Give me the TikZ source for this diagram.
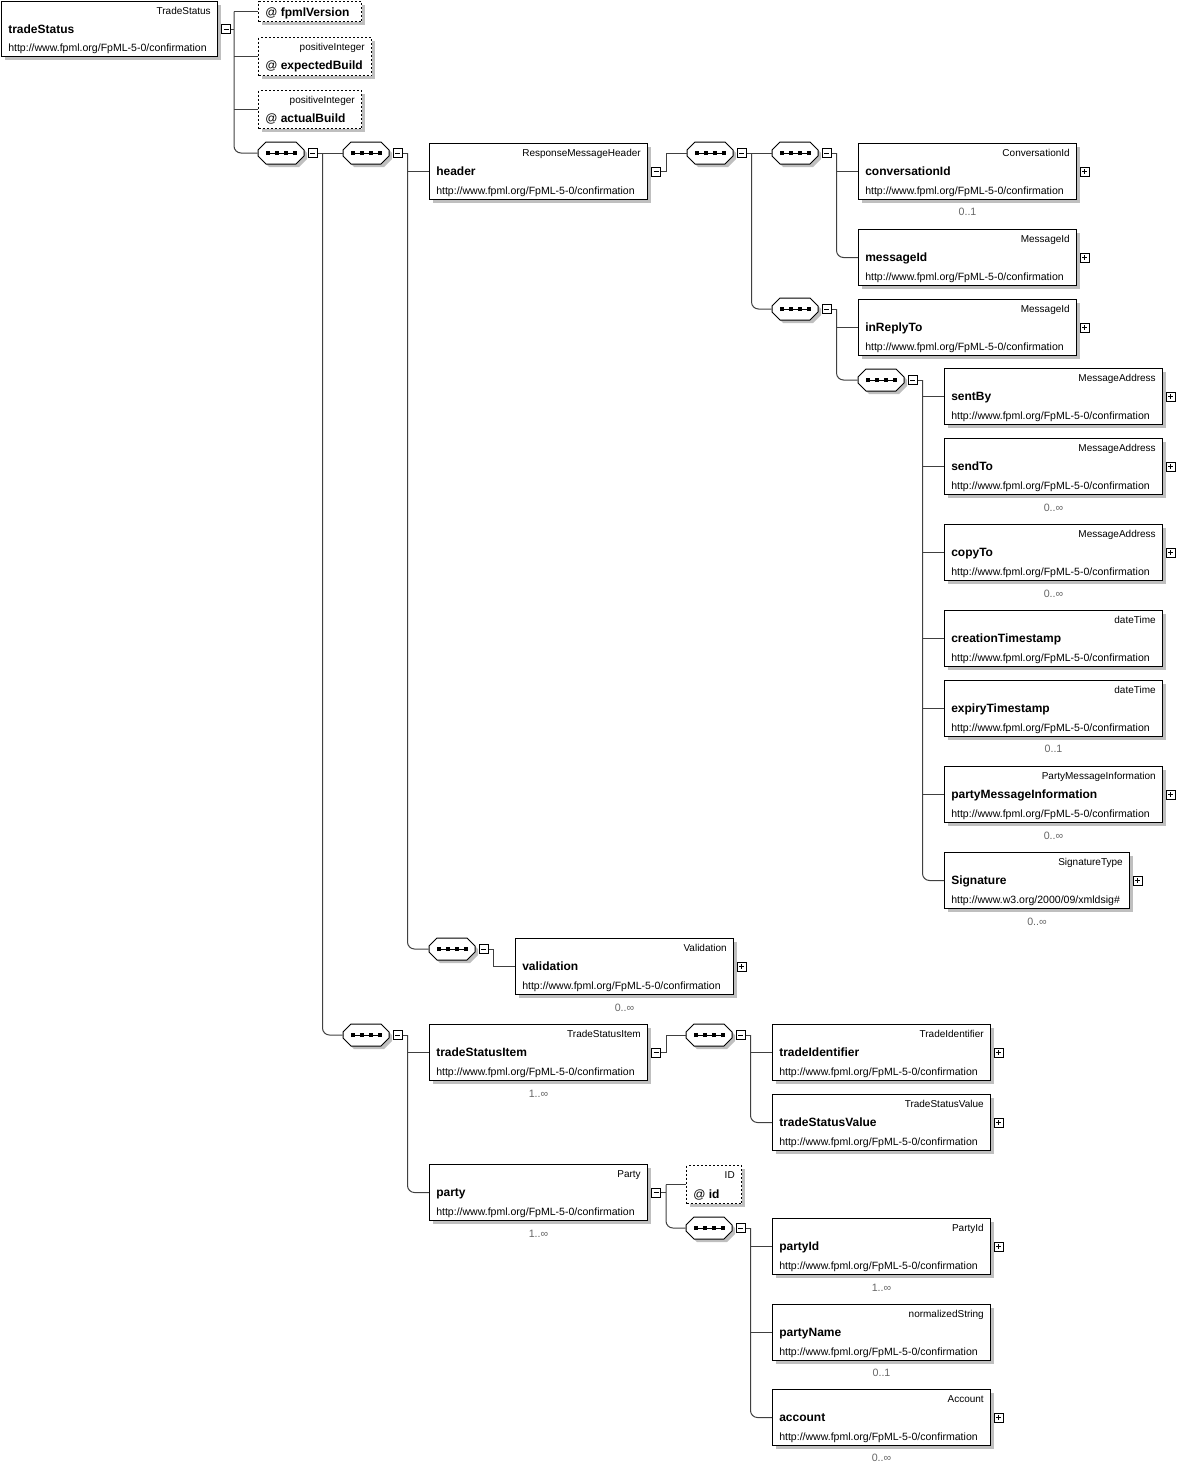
\documentclass[tikz,border=0pt]{standalone}
\usepackage{fontspec}
\setmainfont{Liberation Sans}
\usetikzlibrary{shapes.misc,shadows}
\newlength{\du}
\setlength{\du}{0.75pt}
\definecolor{shadowgray}{rgb}{0.750000, 0.750000, 0.750000}
\definecolor{linegray}{rgb}{0.250000, 0.250000, 0.250000}
\definecolor{multgray}{rgb}{0.400000, 0.400000, 0.400000}
\newcommand{\fpmlns}{http://www.fpml.org/FpML-5-0/confirmation}
\newcommand{\seqdots}{\rule{4\du}{4\du}\rule[1.5\du]{5\du}{1\du}\rule{4\du}{4\du}\rule[1.5\du]{5\du}{1\du}\rule{4\du}{4\du}\rule[1.5\du]{5\du}{1\du}\rule{4\du}{4\du}}
\tikzset{
  boxshadow/.style={drop shadow={shadow xshift=3\du, shadow yshift=-3\du, fill=shadowgray, opacity=1}},
  elembox/.style={draw, line width=1\du, fill=white, anchor=north west, inner sep=0pt,
    minimum width=218\du, minimum height=56\du, boxshadow},
  attrbox/.style={draw, line width=1\du, dash pattern=on 2\du off 2\du, fill=white,
    anchor=north west, inner sep=0pt, minimum height=38\du, boxshadow},
  seqbox/.style={chamfered rectangle, chamfered rectangle sep=6\du, draw, line width=1\du,
    fill=white, anchor=center, inner sep=0pt, minimum width=46\du, minimum height=22\du, boxshadow},
  collapse/.style={draw, line width=1\du, fill=white, minimum size=9\du, inner sep=0pt,
    path picture={\draw[line width=1\du] ([xshift=2\du]path picture bounding box.west) -- ([xshift=-2\du]path picture bounding box.east);}},
  expand/.style={draw, line width=1\du, fill=white, minimum size=9\du, inner sep=0pt,
    path picture={\draw[line width=1\du] ([xshift=2\du]path picture bounding box.west) -- ([xshift=-2\du]path picture bounding box.east)
      ([yshift=-2\du]path picture bounding box.north) -- ([yshift=2\du]path picture bounding box.south);}},
  typelbl/.style={anchor=east, inner sep=0pt, text height=5.4pt, text depth=0pt, font=\fontsize{7.5}{9}\selectfont},
  namelbl/.style={anchor=west, inner sep=0pt, text height=6.4pt, text depth=0pt, font=\fontsize{9}{11}\selectfont\bfseries},
  urllbl/.style={anchor=west, inner sep=0pt, text height=5.7pt, text depth=0pt, font=\fontsize{7.9}{9}\selectfont},
  attrlbl/.style={anchor=west, inner sep=0pt, text height=6.4pt, text depth=0pt, font=\fontsize{9}{11}\selectfont},
  multlbl/.style={inner sep=0pt, text=multgray, font=\fontsize{8}{9}\selectfont},
  conn/.style={draw=linegray, line width=1\du},
}
\begin{document}
\begin{tikzpicture}[x=\du,y=-\du]
\useasboundingbox (0,0) rectangle (1203,1467);
% root element
\node[elembox, minimum width=216\du, minimum height=55\du] (ts) at (1,1) {};
\node[typelbl] (ts-t) at ([shift={(-7,10)}]ts.north east) {TradeStatus};
\node[namelbl] (ts-n) at ([shift={(7,0)}]ts.west) {tradeStatus};
\node[urllbl] (ts-u) at ([shift={(7,-9)}]ts.south west) {\fpmlns};
\node[collapse] (ts-m) at ([xshift=8\du]ts.east) {};
% attributes
\node[attrbox, minimum width=103\du, minimum height=20\du] (fpv) at (258,1) {};
\node[attrlbl] (fpv-n) at ([shift={(7,-10)}]fpv.south west) {@ \textbf{fpmlVersion}};
\node[attrbox, minimum width=113\du] (exb) at (258,37) {};
\node[typelbl] (exb-t) at ([shift={(-7,10)}]exb.north east) {positiveInteger};
\node[attrlbl] (exb-n) at ([shift={(7,-11)}]exb.south west) {@ \textbf{expectedBuild}};
\node[attrbox, minimum width=103\du] (acb) at (258,90) {};
\node[typelbl] (acb-t) at ([shift={(-7,10)}]acb.north east) {positiveInteger};
\node[attrlbl] (acb-n) at ([shift={(7,-11)}]acb.south west) {@ \textbf{actualBuild}};
% sequences
\node[seqbox] (s1) at (281,153) {\seqdots};
\node[collapse] (s1-m) at ([xshift=8\du]s1.east) {};
\node[seqbox] (s2) at (366,153) {\seqdots};
\node[collapse] (s2-m) at ([xshift=8\du]s2.east) {};
% header
\node[elembox] (hdr) at (429,143) {};
\node[typelbl] (hdr-t) at ([shift={(-7,10)}]hdr.north east) {ResponseMessageHeader};
\node[namelbl] (hdr-n) at ([shift={(7,0)}]hdr.west) {header};
\node[urllbl] (hdr-u) at ([shift={(7,-9)}]hdr.south west) {\fpmlns};
\node[collapse] (hdr-m) at ([xshift=8\du]hdr.east) {};
\node[seqbox] (s3) at (710,153) {\seqdots};
\node[collapse] (s3-m) at ([xshift=8\du]s3.east) {};
\node[seqbox] (s4) at (795,153) {\seqdots};
\node[collapse] (s4-m) at ([xshift=8\du]s4.east) {};
\node[seqbox] (s5) at (795,309) {\seqdots};
\node[collapse] (s5-m) at ([xshift=8\du]s5.east) {};
\node[elembox] (cid) at (858,143) {};
\node[typelbl] (cid-t) at ([shift={(-7,10)}]cid.north east) {ConversationId};
\node[namelbl] (cid-n) at ([shift={(7,0)}]cid.west) {conversationId};
\node[urllbl] (cid-u) at ([shift={(7,-9)}]cid.south west) {\fpmlns};
\node[expand] (cid-p) at ([xshift=7.5\du]cid.east) {};
\node[multlbl] (cid-x) at ([yshift=-12\du]cid.south) {0..1};
\node[elembox] (mid) at (858,229) {};
\node[typelbl] (mid-t) at ([shift={(-7,10)}]mid.north east) {MessageId};
\node[namelbl] (mid-n) at ([shift={(7,0)}]mid.west) {messageId};
\node[urllbl] (mid-u) at ([shift={(7,-9)}]mid.south west) {\fpmlns};
\node[expand] (mid-p) at ([xshift=7.5\du]mid.east) {};
\node[elembox] (irt) at (858,299) {};
\node[typelbl] (irt-t) at ([shift={(-7,10)}]irt.north east) {MessageId};
\node[namelbl] (irt-n) at ([shift={(7,0)}]irt.west) {inReplyTo};
\node[urllbl] (irt-u) at ([shift={(7,-9)}]irt.south west) {\fpmlns};
\node[expand] (irt-p) at ([xshift=7.5\du]irt.east) {};
\node[seqbox] (s6) at (881,380) {\seqdots};
\node[collapse] (s6-m) at ([xshift=8\du]s6.east) {};
% message addresses and the rest
\node[elembox] (sby) at (944,368) {};
\node[typelbl] (sby-t) at ([shift={(-7,10)}]sby.north east) {MessageAddress};
\node[namelbl] (sby-n) at ([shift={(7,0)}]sby.west) {sentBy};
\node[urllbl] (sby-u) at ([shift={(7,-9)}]sby.south west) {\fpmlns};
\node[expand] (sby-p) at ([xshift=7.5\du]sby.east) {};
\node[elembox] (sto) at (944,438) {};
\node[typelbl] (sto-t) at ([shift={(-7,10)}]sto.north east) {MessageAddress};
\node[namelbl] (sto-n) at ([shift={(7,0)}]sto.west) {sendTo};
\node[urllbl] (sto-u) at ([shift={(7,-9)}]sto.south west) {\fpmlns};
\node[expand] (sto-p) at ([xshift=7.5\du]sto.east) {};
\node[multlbl] (sto-x) at ([yshift=-13\du]sto.south) {0..∞};
\node[elembox] (cto) at (944,524) {};
\node[typelbl] (cto-t) at ([shift={(-7,10)}]cto.north east) {MessageAddress};
\node[namelbl] (cto-n) at ([shift={(7,0)}]cto.west) {copyTo};
\node[urllbl] (cto-u) at ([shift={(7,-9)}]cto.south west) {\fpmlns};
\node[expand] (cto-p) at ([xshift=7.5\du]cto.east) {};
\node[multlbl] (cto-x) at ([yshift=-13\du]cto.south) {0..∞};
\node[elembox] (cts) at (944,610) {};
\node[typelbl] (cts-t) at ([shift={(-7,10)}]cts.north east) {dateTime};
\node[namelbl] (cts-n) at ([shift={(7,0)}]cts.west) {creationTimestamp};
\node[urllbl] (cts-u) at ([shift={(7,-9)}]cts.south west) {\fpmlns};
\node[elembox] (ets) at (944,680) {};
\node[typelbl] (ets-t) at ([shift={(-7,10)}]ets.north east) {dateTime};
\node[namelbl] (ets-n) at ([shift={(7,0)}]ets.west) {expiryTimestamp};
\node[urllbl] (ets-u) at ([shift={(7,-9)}]ets.south west) {\fpmlns};
\node[multlbl] (ets-x) at ([yshift=-12\du]ets.south) {0..1};
\node[elembox] (pmi) at (944,766) {};
\node[typelbl] (pmi-t) at ([shift={(-7,10)}]pmi.north east) {PartyMessageInformation};
\node[namelbl] (pmi-n) at ([shift={(7,0)}]pmi.west) {partyMessageInformation};
\node[urllbl] (pmi-u) at ([shift={(7,-9)}]pmi.south west) {\fpmlns};
\node[expand] (pmi-p) at ([xshift=7.5\du]pmi.east) {};
\node[multlbl] (pmi-x) at ([yshift=-13\du]pmi.south) {0..∞};
\node[elembox, minimum width=185\du] (sig) at (944,852) {};
\node[typelbl] (sig-t) at ([shift={(-7,10)}]sig.north east) {SignatureType};
\node[namelbl] (sig-n) at ([shift={(7,0)}]sig.west) {Signature};
\node[urllbl] (sig-u) at ([shift={(7,-9)}]sig.south west) {http://www.w3.org/2000/09/xmldsig\#};
\node[expand] (sig-p) at ([xshift=7.5\du]sig.east) {};
\node[multlbl] (sig-x) at ([yshift=-13\du]sig.south) {0..∞};
% validation
\node[seqbox] (s7) at (452,949) {\seqdots};
\node[collapse] (s7-m) at ([xshift=8\du]s7.east) {};
\node[elembox] (val) at (515,938) {};
\node[typelbl] (val-t) at ([shift={(-7,10)}]val.north east) {Validation};
\node[namelbl] (val-n) at ([shift={(7,0)}]val.west) {validation};
\node[urllbl] (val-u) at ([shift={(7,-9)}]val.south west) {\fpmlns};
\node[expand] (val-p) at ([xshift=7.5\du]val.east) {};
\node[multlbl] (val-x) at ([yshift=-13\du]val.south) {0..∞};
% trade status items
\node[seqbox] (s8) at (366,1035) {\seqdots};
\node[collapse] (s8-m) at ([xshift=8\du]s8.east) {};
\node[elembox] (tsi) at (429,1024) {};
\node[typelbl] (tsi-t) at ([shift={(-7,10)}]tsi.north east) {TradeStatusItem};
\node[namelbl] (tsi-n) at ([shift={(7,0)}]tsi.west) {tradeStatusItem};
\node[urllbl] (tsi-u) at ([shift={(7,-9)}]tsi.south west) {\fpmlns};
\node[collapse] (tsi-m) at ([xshift=8\du]tsi.east) {};
\node[multlbl] (tsi-x) at ([yshift=-13\du]tsi.south) {1..∞};
\node[seqbox] (s9) at (709,1035) {\seqdots};
\node[collapse] (s9-m) at ([xshift=8\du]s9.east) {};
\node[elembox] (tid) at (772,1024) {};
\node[typelbl] (tid-t) at ([shift={(-7,10)}]tid.north east) {TradeIdentifier};
\node[namelbl] (tid-n) at ([shift={(7,0)}]tid.west) {tradeIdentifier};
\node[urllbl] (tid-u) at ([shift={(7,-9)}]tid.south west) {\fpmlns};
\node[expand] (tid-p) at ([xshift=7.5\du]tid.east) {};
\node[elembox] (tsv) at (772,1094) {};
\node[typelbl] (tsv-t) at ([shift={(-7,10)}]tsv.north east) {TradeStatusValue};
\node[namelbl] (tsv-n) at ([shift={(7,0)}]tsv.west) {tradeStatusValue};
\node[urllbl] (tsv-u) at ([shift={(7,-9)}]tsv.south west) {\fpmlns};
\node[expand] (tsv-p) at ([xshift=7.5\du]tsv.east) {};
% party
\node[elembox] (pty) at (429,1164) {};
\node[typelbl] (pty-t) at ([shift={(-7,10)}]pty.north east) {Party};
\node[namelbl] (pty-n) at ([shift={(7,0)}]pty.west) {party};
\node[urllbl] (pty-u) at ([shift={(7,-9)}]pty.south west) {\fpmlns};
\node[collapse] (pty-m) at ([xshift=8\du]pty.east) {};
\node[multlbl] (pty-x) at ([yshift=-13\du]pty.south) {1..∞};
\node[attrbox, minimum width=55\du] (aid) at (686,1165) {};
\node[typelbl] (aid-t) at ([shift={(-7,10)}]aid.north east) {ID};
\node[attrlbl] (aid-n) at ([shift={(7,-10)}]aid.south west) {@ \textbf{id}};
\node[seqbox] (s10) at (709,1228) {\seqdots};
\node[collapse] (s10-m) at ([xshift=8\du]s10.east) {};
\node[elembox] (pid) at (772,1218) {};
\node[typelbl] (pid-t) at ([shift={(-7,10)}]pid.north east) {PartyId};
\node[namelbl] (pid-n) at ([shift={(7,0)}]pid.west) {partyId};
\node[urllbl] (pid-u) at ([shift={(7,-9)}]pid.south west) {\fpmlns};
\node[expand] (pid-p) at ([xshift=7.5\du]pid.east) {};
\node[multlbl] (pid-x) at ([yshift=-13\du]pid.south) {1..∞};
\node[elembox] (pnm) at (772,1304) {};
\node[typelbl] (pnm-t) at ([shift={(-7,10)}]pnm.north east) {normalizedString};
\node[namelbl] (pnm-n) at ([shift={(7,0)}]pnm.west) {partyName};
\node[urllbl] (pnm-u) at ([shift={(7,-9)}]pnm.south west) {\fpmlns};
\node[multlbl] (pnm-x) at ([yshift=-12\du]pnm.south) {0..1};
\node[elembox] (acc) at (772,1389) {};
\node[typelbl] (acc-t) at ([shift={(-7,10)}]acc.north east) {Account};
\node[namelbl] (acc-n) at ([shift={(7,0)}]acc.west) {account};
\node[urllbl] (acc-u) at ([shift={(7,-9)}]acc.south west) {\fpmlns};
\node[expand] (acc-p) at ([xshift=7.5\du]acc.east) {};
\node[multlbl] (acc-x) at ([yshift=-12\du]acc.south) {0..∞};
% connectors
\coordinate (ts-b) at ([xshift=3\du]ts-m.east);
\draw[conn] (ts-m.east) -- (ts-b);
\draw[conn] (ts-b |- fpv.west) -- (fpv.west);
\draw[conn] (ts-b |- exb.west) -- (exb.west);
\draw[conn] (ts-b |- acb.west) -- (acb.west);
\draw[conn, rounded corners=7\du] (ts-b |- fpv.west) -- (ts-b |- s1.west) -- (s1.west);
\coordinate (s1-b) at ([xshift=5\du]s1-m.east);
\draw[conn] (s1-m.east) -- (s2.west);
\draw[conn, rounded corners=7\du] (s1-b) -- (s1-b |- s8.west) -- (s8.west);
\coordinate (s2-b) at ([xshift=5\du]s2-m.east);
\draw[conn] (s2-m.east) -- (s2-b);
\draw[conn] (s2-b |- hdr.west) -- (hdr.west);
\draw[conn, rounded corners=7\du] (s2-b) -- (s2-b |- s7.west) -- (s7.west);
\coordinate (hdr-b) at ([xshift=5\du]hdr-m.east);
\draw[conn] (hdr-m.east) -- (hdr-b) -- (hdr-b |- s3.west) -- (s3.west);
\coordinate (s3-b) at ([xshift=5\du]s3-m.east);
\draw[conn] (s3-m.east) -- (s4.west);
\draw[conn, rounded corners=7\du] (s3-b) -- (s3-b |- s5.west) -- (s5.west);
\coordinate (s4-b) at ([xshift=5\du]s4-m.east);
\draw[conn] (s4-m.east) -- (s4-b);
\draw[conn] (s4-b |- cid.west) -- (cid.west);
\draw[conn, rounded corners=7\du] (s4-b) -- (s4-b |- mid.west) -- (mid.west);
\coordinate (s5-b) at ([xshift=5\du]s5-m.east);
\draw[conn] (s5-m.east) -- (s5-b);
\draw[conn] (s5-b |- irt.west) -- (irt.west);
\draw[conn, rounded corners=7\du] (s5-b) -- (s5-b |- s6.west) -- (s6.west);
\coordinate (s6-b) at ([xshift=5\du]s6-m.east);
\draw[conn] (s6-m.east) -- (s6-b);
\draw[conn] (s6-b |- sby.west) -- (sby.west);
\draw[conn] (s6-b |- sto.west) -- (sto.west);
\draw[conn] (s6-b |- cto.west) -- (cto.west);
\draw[conn] (s6-b |- cts.west) -- (cts.west);
\draw[conn] (s6-b |- ets.west) -- (ets.west);
\draw[conn] (s6-b |- pmi.west) -- (pmi.west);
\draw[conn, rounded corners=7\du] (s6-b) -- (s6-b |- sig.west) -- (sig.west);
\coordinate (s7-b) at ([xshift=5\du]s7-m.east);
\draw[conn] (s7-m.east) -- (s7-b) -- (s7-b |- val.west) -- (val.west);
\coordinate (s8-b) at ([xshift=5\du]s8-m.east);
\draw[conn] (s8-m.east) -- (s8-b);
\draw[conn] (s8-b |- tsi.west) -- (tsi.west);
\draw[conn, rounded corners=7\du] (s8-b) -- (s8-b |- pty.west) -- (pty.west);
\coordinate (tsi-b) at ([xshift=5\du]tsi-m.east);
\draw[conn] (tsi-m.east) -- (tsi-b) -- (tsi-b |- s9.west) -- (s9.west);
\coordinate (s9-b) at ([xshift=5\du]s9-m.east);
\draw[conn] (s9-m.east) -- (s9-b);
\draw[conn] (s9-b |- tid.west) -- (tid.west);
\draw[conn, rounded corners=7\du] (s9-b) -- (s9-b |- tsv.west) -- (tsv.west);
\coordinate (pty-b) at ([xshift=5\du]pty-m.east);
\draw[conn] (pty-m.east) -- (pty-b);
\draw[conn] (pty-b |- aid.west) -- (aid.west);
\draw[conn, rounded corners=7\du] (pty-b |- aid.west) -- (pty-b |- s10.west) -- (s10.west);
\coordinate (s10-b) at ([xshift=5\du]s10-m.east);
\draw[conn] (s10-m.east) -- (s10-b);
\draw[conn] (s10-b |- pid.west) -- (pid.west);
\draw[conn] (s10-b |- pnm.west) -- (pnm.west);
\draw[conn, rounded corners=7\du] (s10-b) -- (s10-b |- acc.west) -- (acc.west);
\end{tikzpicture}
\end{document}
